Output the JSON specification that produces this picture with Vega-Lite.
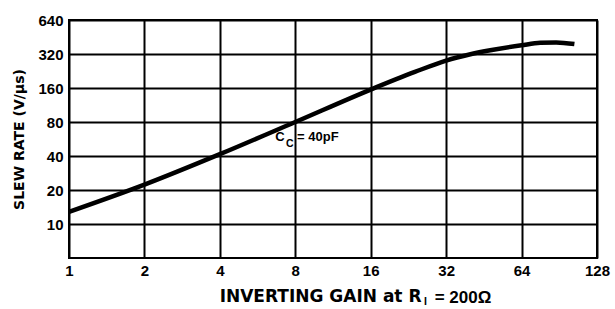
{
  "$schema": "https://vega.github.io/schema/vega-lite/v6.json",
  "width": 528,
  "height": 238,
  "autosize": {"type": "none"},
  "padding": {"left": 69, "top": 20, "right": 18, "bottom": 51},
  "background": "white",
  "config": {
    "view": {"stroke": "black", "strokeWidth": 2},
    "font": "Liberation Sans"
  },
  "datasets": {
    "curve": [
      {"gain": 1, "slew": 12.8},
      {"gain": 2, "slew": 22.3},
      {"gain": 4, "slew": 41.5},
      {"gain": 8, "slew": 80},
      {"gain": 16, "slew": 155},
      {"gain": 24, "slew": 222},
      {"gain": 32, "slew": 280},
      {"gain": 40, "slew": 318},
      {"gain": 48, "slew": 345},
      {"gain": 64, "slew": 382},
      {"gain": 76, "slew": 402},
      {"gain": 88, "slew": 405},
      {"gain": 104, "slew": 392}
    ],
    "notes": [
      {"gain": 6.65, "slew": 58.9, "label": "C", "size": 13},
      {"gain": 7.35, "slew": 50.6, "label": "C", "size": 10.5},
      {"gain": 8.13, "slew": 58.9, "label": "= 40pF", "size": 13},
      {"gain": 26.1, "slew": 2.02, "label": "I", "size": 10.5},
      {"gain": 28.8, "slew": 2.22, "label": "= 200Ω", "size": 17}
    ]
  },
  "layer": [
    {
      "data": {"name": "curve"},
      "mark": {"type": "line", "color": "black", "strokeWidth": 4.5, "interpolate": "monotone", "clip": true},
      "encoding": {
        "x": {
          "field": "gain", "type": "quantitative",
          "scale": {"type": "log", "base": 2, "domain": [1, 128], "nice": false},
          "axis": {
            "values": [1, 2, 4, 8, 16, 32, 64, 128],
            "format": "d",
            "grid": true, "gridColor": "black", "gridWidth": 2, "gridOpacity": 1,
            "domain": false, "ticks": false,
            "labelFont": "Liberation Sans", "labelFontWeight": "bold", "labelFontSize": 15, "labelColor": "black",
            "labelPadding": 5, "labelFlush": false,
            "title": "INVERTING GAIN at R",
            "titleFont": "DejaVu Sans", "titleFontWeight": "bold", "titleFontSize": 17, "titleColor": "black",
            "titleAlign": "right", "titleX": 352,
            "titlePadding": 10
          }
        },
        "y": {
          "field": "slew", "type": "quantitative",
          "scale": {"type": "log", "base": 2, "domain": [5, 640], "nice": false},
          "axis": {
            "values": [10, 20, 40, 80, 160, 320, 640],
            "format": "d",
            "grid": true, "gridColor": "black", "gridWidth": 2, "gridOpacity": 1,
            "domain": false, "ticks": false,
            "labelFont": "Liberation Sans", "labelFontWeight": "bold", "labelFontSize": 15, "labelColor": "black",
            "labelPadding": 6, "labelFlush": false,
            "title": "SLEW RATE (V/μs)",
            "titleFont": "DejaVu Sans", "titleFontWeight": "bold", "titleFontSize": 14, "titleColor": "black",
            "titlePadding": 11
          }
        }
      }
    },
    {
      "data": {"name": "notes"},
      "mark": {"type": "text", "align": "left", "baseline": "middle", "color": "black", "fontWeight": "bold", "font": "Liberation Sans"},
      "encoding": {
        "x": {"field": "gain", "type": "quantitative"},
        "y": {"field": "slew", "type": "quantitative"},
        "text": {"field": "label"},
        "size": {"field": "size", "type": "quantitative", "scale": null, "legend": null}
      }
    }
  ]
}
